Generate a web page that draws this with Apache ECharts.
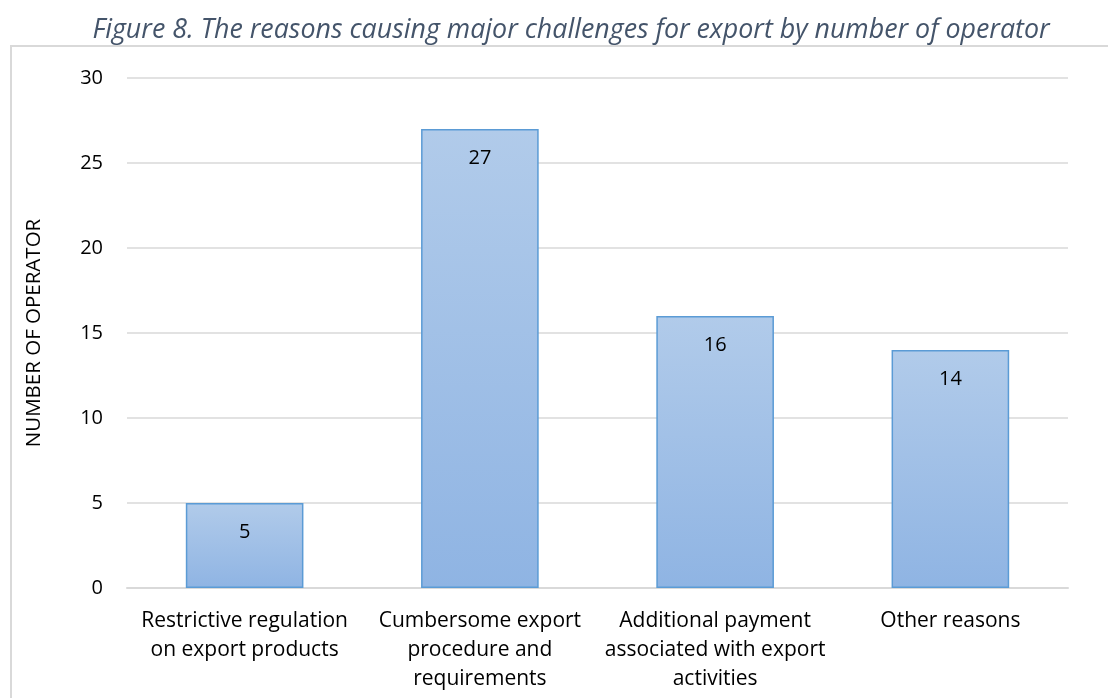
<!DOCTYPE html>
<html>
<head>
<meta charset="utf-8">
<style>
  html, body { margin: 0; padding: 0; background: #fff; }
  #chart { width: 1108px; height: 698px; }
</style>
<script src="https://cdn.jsdelivr.net/npm/echarts@6/dist/echarts.min.js"></script>
</head>
<body>
<div id="chart"></div>
<script>
// Reasons for export challenges, counted by operator
const categories = [
  'Restrictive regulation\non export products',
  'Cumbersome export\nprocedure and\nrequirements',
  'Additional payment\nassociated with export\nactivities',
  'Other reasons'
];
const operatorCounts = [5, 27, 16, 14];
const yTicks = { min: 0, max: 30, interval: 5 };

const chart = echarts.init(document.getElementById('chart'));
const baseFont = '"Open Sans", "Noto Sans", "DejaVu Sans", sans-serif';

chart.setOption({
  backgroundColor: '#ffffff',
  animation: false,
  title: {
    text: 'Figure 8. The reasons causing major challenges for export by number of operator',
    left: 566,
    top: 9,
    textAlign: 'center',
    textStyle: {
      fontFamily: baseFont,
      fontStyle: 'italic',
      fontWeight: 'normal',
      fontSize: 26.8,
      lineHeight: 32,
      color: '#44546a'
    }
  },
  graphic: [
    {
      type: 'polyline',
      shape: { points: [[11, 698], [11, 46], [1108, 46]] },
      style: { stroke: '#d9d9d9', lineWidth: 2, fill: null },
      silent: true
    }
  ],
  grid: { left: 127, right: 40, top: 78, bottom: 110 },
  xAxis: {
    type: 'category',
    data: categories,
    axisLine: { show: true, lineStyle: { color: '#d9d9d9', width: 2 } },
    axisTick: { show: false },
    axisLabel: {
      interval: 0,
      margin: 19,
      color: '#000000',
      fontFamily: baseFont,
      fontSize: 21,
      lineHeight: 29
    }
  },
  yAxis: {
    type: 'value',
    min: yTicks.min,
    max: yTicks.max,
    interval: yTicks.interval,
    name: 'NUMBER OF OPERATOR',
    nameLocation: 'middle',
    nameGap: 82,
    nameTextStyle: {
      color: '#000000',
      fontFamily: baseFont,
      fontSize: 20.5
    },
    axisLine: { show: false },
    axisTick: { show: false },
    splitLine: { lineStyle: { color: '#d9d9d9', width: 1.5 } },
    axisLabel: {
      margin: 24,
      color: '#000000',
      fontFamily: baseFont,
      fontSize: 20
    }
  },
  series: [
    {
      type: 'bar',
      data: operatorCounts,
      barWidth: '50%',
      itemStyle: {
        color: new echarts.graphic.LinearGradient(0, 0, 0, 1, [
          { offset: 0, color: '#b1cbea' },
          { offset: 1, color: '#8fb4e3' }
        ]),
        borderColor: '#5b9bd5',
        borderWidth: 1.5
      },
      label: {
        show: true,
        position: 'insideTop',
        distance: 19,
        color: '#000000',
        fontFamily: baseFont,
        fontSize: 20
      }
    }
  ]
});
</script>
</body>
</html>
